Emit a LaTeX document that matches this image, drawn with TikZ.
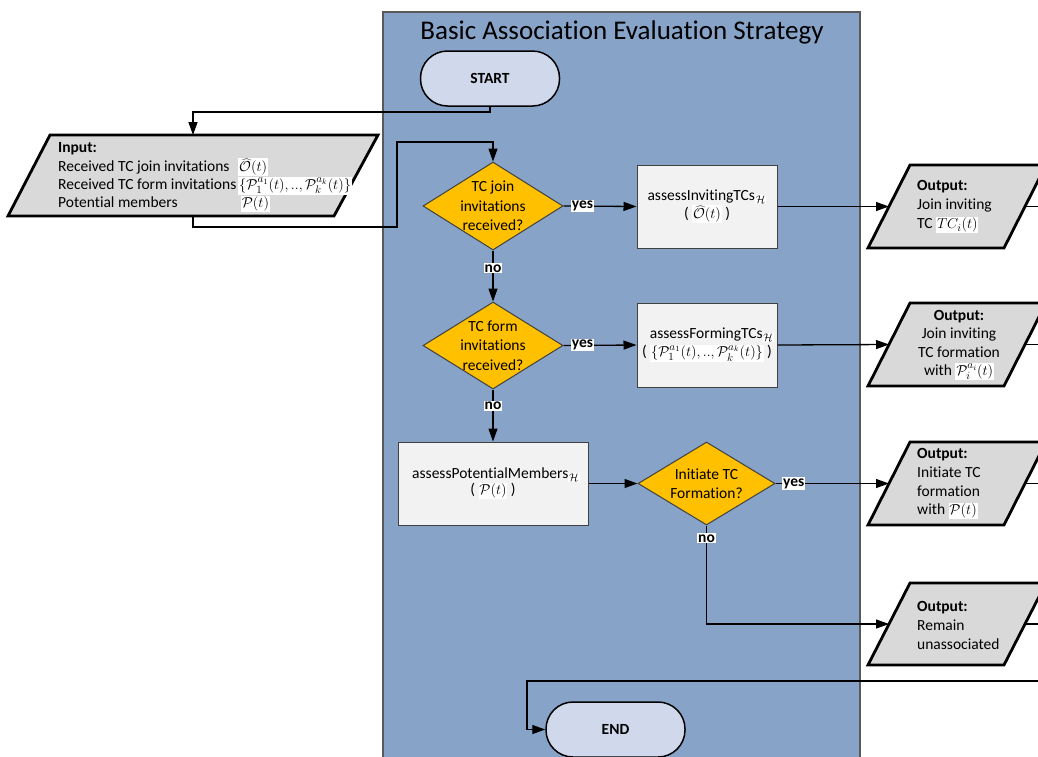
\documentclass[tikz,border=0pt]{standalone}
\usepackage{fontspec}
\setmainfont[Ligatures={NoCommon}]{Carlito}
\usetikzlibrary{arrows.meta,shapes.geometric,calc}
\definecolor{panelblue}{HTML}{87A3C8}
\definecolor{pillfill}{HTML}{D0D9EC}
\definecolor{parafill}{HTML}{D9D9D9}
\definecolor{boxfill}{HTML}{F2F2F2}
\definecolor{diafill}{HTML}{FFC000}
\newcommand{\wm}[1]{{\setlength{\fboxsep}{0.8pt}\colorbox{white}{$#1$}}}
\begin{document}
\begin{tikzpicture}[x=1pt,y=-1pt,
  every node/.style={font=\fontsize{15.5}{18}\selectfont},
  conn/.style={draw=black,line width=1.3pt},
  arr/.style={conn,-{Triangle[length=13pt,width=9pt]}},
  pill/.style={draw=black,line width=1.5pt,fill=pillfill,rounded corners=27pt,minimum width=139pt,minimum height=55pt,font=\fontsize{15.5}{18}\selectfont\bfseries},
  procbox/.style={draw=black!75,line width=1pt,fill=boxfill,minimum height=83pt,align=center,inner sep=0pt,font=\fontsize{15.5}{19}\selectfont},
  dia/.style={draw=black!75,line width=1pt,fill=diafill,shape=diamond,inner sep=0pt},
  diatext/.style={align=center,inner sep=0pt,font=\fontsize{15.5}{19.5}\selectfont},
  lab/.style={fill=white,inner sep=1pt,font=\fontsize{15.5}{18}\selectfont\bfseries},
  para/.style={draw=black,line width=2.8pt,fill=parafill,line join=miter},
  paratext/.style={align=left,inner sep=0pt,font=\fontsize{15.5}{19}\selectfont},
]
\useasboundingbox (0,0) rectangle (1038,756);
\clip (0,0) rectangle (1038,756);
\fill[white] (0,0) rectangle (1038,756);

% panel
\draw[fill=panelblue,draw=black!65,line width=1.2pt] (383,12) rectangle (860,780);
\node (title) at (622,32) [font=\fontsize{27}{30}\selectfont] {Basic Association Evaluation Strategy};

% terminals
\node[pill] (start) at (490,78.5) {START};
\node[pill] (end) at (615.5,729.5) {END};

% input parallelogram
\draw[para] (50,135) -- (378,135) -- (334,216) -- (8,216) -- cycle;
\coordinate (intop) at (193,135);
\coordinate (inbot) at (193,216);
\node[anchor=west,inner sep=0pt] (intext) at (58,176.5) {%
  \renewcommand{\arraystretch}{0.98}%
  \begin{tabular}{@{}l@{\hspace{2pt}}l@{}}
  \textbf{Input:} & \\
  Received TC join invitations & \wm{\widehat{\mathcal{O}}(t)}\\
  Received TC form invitations & \wm{\{\mathcal{P}_1^{a_1}(t),..,\mathcal{P}_k^{a_k}(t)\}}\\
  Potential members & \,\wm{\mathcal{P}(t)}
  \end{tabular}};

% decisions
\node[dia,minimum width=140pt,minimum height=88pt] (d1) at (493,206) {};
\node[diatext] (d1t) at (d1) {TC join\\invitations\\received?};
\node[dia,minimum width=140pt,minimum height=87pt] (d2) at (493,345.5) {};
\node[diatext] (d2t) at (d2) {TC form\\invitations\\received?};
\node[dia,minimum width=137pt,minimum height=83pt] (d3) at (706.5,483.5) {};
\node[diatext,font=\fontsize{15.5}{18.5}\selectfont] (d3t) at (d3) {Initiate TC\\Formation?};

% processes
\node[procbox,minimum width=140pt] (b1) at (707,206.5) {assessInvitingTCs\wm{_{\mathcal{H}}}\\[-1pt]( \wm{\widehat{\mathcal{O}}(t)} )};
\node[procbox,minimum width=140pt,minimum height=84pt] (b2) at (707,345) {\hspace{10pt}assessFormingTCs\wm{_{\mathcal{H}}}\\[-1pt]( \wm{\{\mathcal{P}_1^{a_1}(t),..,\mathcal{P}_k^{a_k}(t)\}} )};
\node[procbox,minimum width=190pt] (b3) at (493,483.5) {\hspace{6pt}assessPotentialMembers\wm{_{\mathcal{H}}}\\[-3pt]( \wm{\mathcal{P}(t)} )};

% output parallelograms
\draw[para] (910,165) -- (1046,165) -- (1004,248) -- (868,248) -- cycle;
\coordinate (o1w) at (889,206.5); \coordinate (o1e) at (1025,206.5);
\node[paratext,anchor=west] (o1t) at (917,207) {\textbf{Output:}\\Join inviting\\TC \wm{TC_i(t)}};

\draw[para] (910,303) -- (1046,303) -- (1004,386) -- (868,386) -- cycle;
\coordinate (o2w) at (889,344.5); \coordinate (o2e) at (1025,344.5);
\node[paratext,align=center,font=\fontsize{15.5}{18.5}\selectfont] (o2t) at (959,345) {\textbf{Output:}\\Join inviting\\TC formation\\with \wm{\mathcal{P}_i^{a_i}(t)}};

\draw[para] (910,442) -- (1046,442) -- (1004,525) -- (868,525) -- cycle;
\coordinate (o3w) at (889,483.5); \coordinate (o3e) at (1025,483.5);
\node[paratext,anchor=west,font=\fontsize{15.5}{18.7}\selectfont] (o3t) at (917,484) {\textbf{Output:}\\Initiate TC\\formation\\with \wm{\mathcal{P}(t)}};

\draw[para] (910,583) -- (1046,583) -- (1004,665) -- (868,665) -- cycle;
\coordinate (o4w) at (889,624); \coordinate (o4e) at (1025,624);
\node[paratext,anchor=west] (o4t) at (917,625) {\textbf{Output:}\\Remain\\unassociated};

% connectors
\coordinate (sdrop) at (490,112);
\draw[arr] (start.south) -- (sdrop) -| (intop);
\coordinate (w1) at (193,227);
\coordinate (w2) at (397,227);
\coordinate (w3) at (397,142);
\coordinate (w4) at (493,142);
\draw[arr] (inbot) -- (w1) -- (w2) -- (w3) -- (w4) -- (d1.north);

\draw[arr] (d1.east) -- node[lab,pos=0.26] (y1) {yes} (b1.west);
\draw[arr] (b1.east) -- (o1w);
\draw[arr] (d1.south) -- node[lab,pos=0.35] (n1) {no} (d2.north);
\draw[arr] (d2.east) -- node[lab,pos=0.26] (y2) {yes} (b2.west);
\draw[arr] (b2.east) -- (o2w);
\draw[arr] (d2.south) -- node[lab,pos=0.32] (n2) {no} (b3.north);
\draw[arr] (b3.east) -- (d3.west);
\draw[arr] (d3.east) -- node[lab,pos=0.16] (y3) {yes} (o3w);
\coordinate (d3low) at (706.5,624);
\draw[arr] (d3.south) -- node[lab,pos=0.13] (n3) {no} (d3low) -- (o4w);

\coordinate (r1) at (1060,206.5);
\coordinate (r2) at (1060,344.5);
\coordinate (r3) at (1060,483.5);
\coordinate (r4) at (1060,624);
\draw[conn] (o1e) -- (r1);
\draw[conn] (o2e) -- (r2);
\draw[conn] (o3e) -- (r3);
\draw[conn] (o4e) -- (r4);

\coordinate (back) at (1060,681);
\coordinate (bl) at (527,681);
\coordinate (bd) at (527,729.5);
\draw[arr] (back) -- (bl) -- (bd) -- (end.west);
\end{tikzpicture}
\end{document}
